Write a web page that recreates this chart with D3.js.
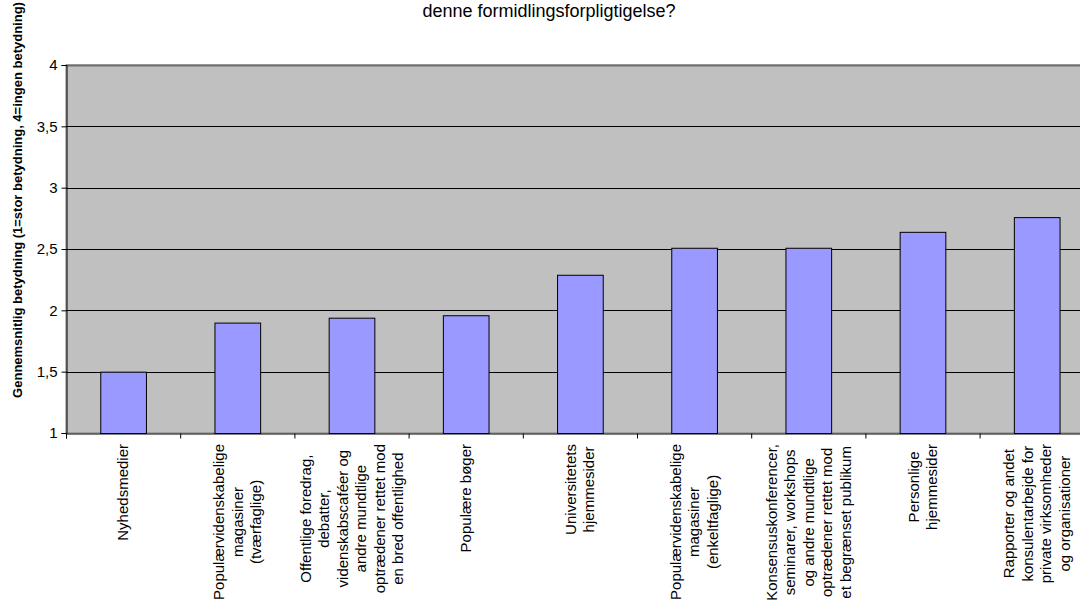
<!DOCTYPE html>
<html>
<head>
<meta charset="utf-8">
<script src="https://cdn.jsdelivr.net/npm/d3@7"></script>
<style>
  html, body { margin: 0; padding: 0; background: #fff; }
  svg { display: block; font-family: "Liberation Sans", Arial, sans-serif; }
</style>
</head>
<body>
<svg id="chart" width="1080" height="606"></svg>
<script>
// Kategorier (linjeskift markeret med "|")
const categories = [
  "Nyhedsmedier",
  "Populærvidenskabelige|magasiner|(tværfaglige)",
  "Offentlige foredrag,|debatter,|videnskabscaféer og|andre mundtlige|optrædener rettet mod|en bred offentlighed",
  "Populære bøger",
  "Universitetets|hjemmesider",
  "Populærvidenskabelige|magasiner|(enkeltfaglige)",
  "Konsensuskonferencer,|seminarer, workshops|og andre mundtlige|optrædener rettet mod|et begrænset publikum",
  "Personlige|hjemmesider",
  "Rapporter og andet|konsulentarbejde for|private virksomheder|og organisationer"
];
const values = [1.5, 1.9, 1.94, 1.96, 2.29, 2.51, 2.51, 2.64, 2.76];
const yTicks = [1, 1.5, 2, 2.5, 3, 3.5, 4];
const titleText = "denne formidlingsforpligtigelse?";
const yLabel = "Gennemsnitlig betydning (1=stor betydning, 4=ingen betydning)";

const svg = d3.select("#chart");
const plotLeft = 66, plotTop = 65, plotBottom = 433;
const band = 114.2;
const plotRight = plotLeft + band * categories.length;

const x = d3.scaleBand().domain(d3.range(categories.length))
  .range([plotLeft, plotRight]).paddingInner(0.6).paddingOuter(0.3);
const y = d3.scaleLinear().domain([1, 4]).range([plotBottom, plotTop]);

// Plotområde
svg.append("rect").attr("x", plotLeft).attr("y", plotTop)
  .attr("width", plotRight - plotLeft).attr("height", plotBottom - plotTop)
  .attr("fill", "#c0c0c0").attr("stroke", "#808080").attr("stroke-width", 1);

// Gitterlinjer
svg.append("g").selectAll("line").data(yTicks.filter(d => d > 1 && d < 4)).join("line")
  .attr("x1", plotLeft).attr("x2", plotRight)
  .attr("y1", d => Math.round(y(d)) + 0.5).attr("y2", d => Math.round(y(d)) + 0.5)
  .attr("stroke", "#000").attr("stroke-width", 1);
svg.append("line").attr("x1", plotLeft).attr("x2", plotRight)
  .attr("y1", plotTop + 0.5).attr("y2", plotTop + 0.5)
  .attr("stroke", "#6e6e6e").attr("stroke-width", 2);

// Søjler
svg.append("g").selectAll("rect").data(values).join("rect")
  .attr("x", (d, i) => x(i) + 0.5)
  .attr("y", d => y(d) + 0.5)
  .attr("width", x.bandwidth())
  .attr("height", d => plotBottom - y(d))
  .attr("fill", "#9999ff").attr("stroke", "#000").attr("stroke-width", 1);

// Y-akse
const yAxis = d3.axisLeft(y).tickValues(yTicks).tickSize(5).tickPadding(4)
  .tickFormat(d => String(d).replace(".", ","));
const gy = svg.append("g").attr("transform", `translate(${plotLeft + 0.5},0)`).call(yAxis);
gy.select(".domain").attr("stroke", "#000");
gy.selectAll(".tick line").attr("stroke", "#000");
gy.selectAll("text").attr("font-size", 15).attr("fill", "#000")
  .attr("font-family", "Liberation Sans, Arial, sans-serif");

// X-akse med streger ved kategorigrænser
const xb = d3.scaleLinear().domain([0, categories.length]).range([plotLeft, plotRight]);
const gx = svg.append("g").attr("transform", `translate(0,${plotBottom + 0.5})`)
  .call(d3.axisBottom(xb).tickValues(d3.range(categories.length + 1))
    .tickSize(5).tickFormat(""));
gx.select(".domain").attr("stroke", "#000");
gx.selectAll(".tick line").attr("stroke", "#000");

// Kategorietiketter, roteret lodret
const lh = 18.5;
categories.forEach((c, i) => {
  const lines = c.split("|");
  const cx = x(i) + x.bandwidth() / 2;
  const g = svg.append("g");
  const t = g.append("text").attr("font-size", 15).attr("fill", "#000")
    .attr("text-anchor", "middle");
  lines.forEach((ln, j) => {
    t.append("tspan").attr("x", 0).attr("dy", j === 0 ? 0 : lh).text(ln);
  });
  let maxW = 0;
  t.selectAll("tspan").each(function () { maxW = Math.max(maxW, this.getComputedTextLength()); });
  const off = -((lines.length - 1) * lh) / 2 + 5.3;
  t.attr("transform", `translate(0,${off})`);
  g.attr("transform", `translate(${cx},${plotBottom + 11 + maxW / 2}) rotate(-90)`);
});

// Titel
svg.append("text").attr("x", 549).attr("y", 17).attr("text-anchor", "middle")
  .attr("font-size", 18).attr("fill", "#000").text(titleText);

// Y-aksetitel
svg.append("text").attr("transform", "translate(22,200) rotate(-90)")
  .attr("text-anchor", "middle").attr("font-size", 13).attr("font-weight", "bold")
  .attr("fill", "#000").text(yLabel);
</script>
</body>
</html>
